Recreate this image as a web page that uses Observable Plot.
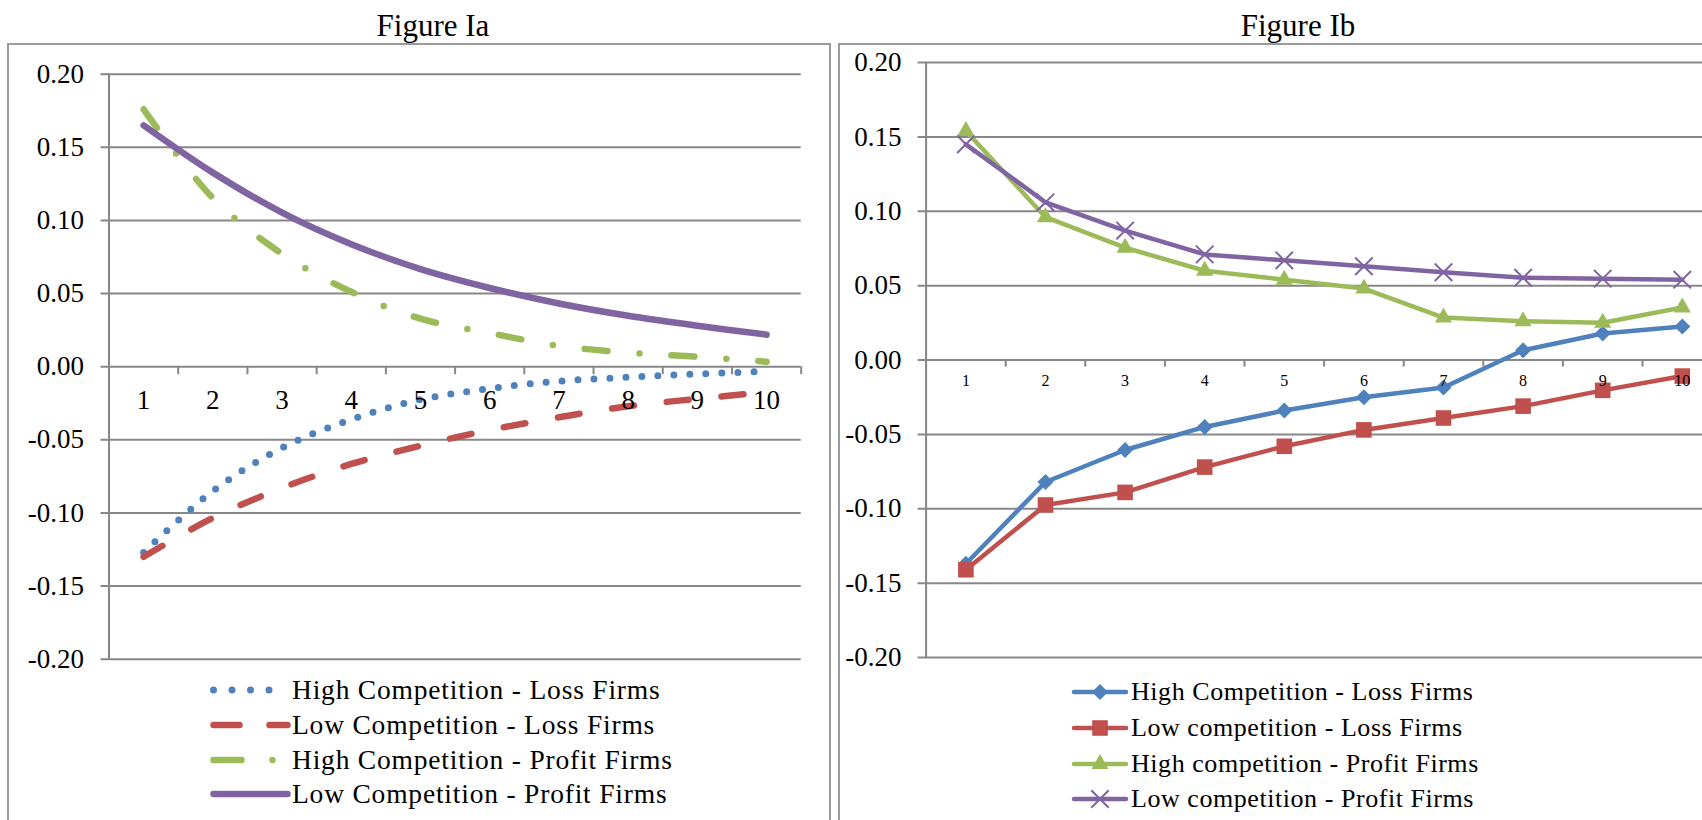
<!DOCTYPE html>
<html><head><meta charset="utf-8">
<script src="https://cdn.jsdelivr.net/npm/d3@7"></script>
<script src="https://cdn.jsdelivr.net/npm/@observablehq/plot@0.6"></script>
<style>
html,body{margin:0;padding:0;background:#fff;}
#page{position:relative;width:1702px;height:820px;overflow:hidden;font-family:"Liberation Serif",serif;color:#000;}
.box{position:absolute;border:2px solid #9a9a9a;box-sizing:border-box;}
.title{position:absolute;transform:translate(-50%,-50%);font-size:31px;white-space:nowrap;}
.leg{position:absolute;display:flex;align-items:center;font-size:27.5px;letter-spacing:0.8px;white-space:nowrap;height:36px;}
.leg.b{font-size:26px;letter-spacing:0.55px;}
.leg svg{display:block;}
.plot{position:absolute;top:0;}
</style></head><body><div id="page"></div>
<script>
// ---------- data ----------
const categories = [1, 2, 3, 4, 5, 6, 7, 8, 9, 10];
const yTicks = [-0.20, -0.15, -0.10, -0.05, 0.00, 0.05, 0.10, 0.15, 0.20];

const titleA = "Figure Ia";
const titleB = "Figure Ib";

// Figure Ia
const namesA = ["High Competition - Loss Firms", "Low Competition - Loss Firms", "High Competition - Profit Firms", "Low Competition - Profit Firms"];
const highLossA   = [-0.127, -0.085, -0.0555, -0.036, -0.0225, -0.015, -0.0099, -0.0072, -0.005, -0.0032];
const lowLossA    = [-0.130, -0.1034, -0.0829, -0.0665, -0.054, -0.0433, -0.0346, -0.027, -0.022, -0.0174];
const highProfitA = [0.176, 0.1154, 0.0772, 0.0512, 0.0328, 0.023, 0.0143, 0.0096, 0.0068, 0.0034];
const lowProfitA  = [0.165, 0.1327, 0.1054, 0.0838, 0.0667, 0.0538, 0.0432, 0.0348, 0.028, 0.0219];

// Figure Ib
const namesB = ["High Competition - Loss Firms", "Low competition - Loss Firms", "High competition - Profit Firms", "Low competition - Profit Firms"];
const highLossB   = [-0.137, -0.082, -0.0605, -0.045, -0.034, -0.025, -0.0185, 0.0065, 0.0178, 0.0225];
const lowLossB    = [-0.141, -0.0975, -0.089, -0.072, -0.058, -0.047, -0.039, -0.031, -0.0204, -0.0108];
const highProfitB = [0.154, 0.096, 0.0755, 0.060, 0.054, 0.048, 0.0285, 0.026, 0.025, 0.0353];
const lowProfitB  = [0.145, 0.106, 0.087, 0.071, 0.067, 0.063, 0.059, 0.0553, 0.0547, 0.054];

// ---------- styles ----------
const BLUE = "#4F81BD", RED = "#C0504D", GREEN = "#9BBB59", PURPLE = "#8064A2";
const GRID = "#878787";
const FONT = '"Liberation Serif", serif';
const xDomain = [categories[0] - 0.5, categories[categories.length - 1] + 0.5];
const boundaries = categories.map(c => c + 0.5);
const fmt = d => d.toFixed(2);

const page = document.getElementById("page");
function add(html) { const d = document.createElement("div"); d.innerHTML = html; const el = d.firstElementChild; page.appendChild(el); return el; }

// panel boxes
add(`<div class="box" style="left:7px;top:43px;width:824px;height:820px"></div>`);
add(`<div class="box" style="left:838px;top:43px;width:900px;height:820px"></div>`);

// titles
add(`<div class="title" style="left:433px;top:26px">${titleA}</div>`);
add(`<div class="title" style="left:1298px;top:26px">${titleB}</div>`);

// ---------- Figure Ia ----------
const stylesA = [
  {values: highLossA,   stroke: BLUE,   strokeWidth: 7,   dash: "0 16"},
  {values: lowLossA,    stroke: RED,    strokeWidth: 6.5, dash: "22 33"},
  {values: highProfitA, stroke: GREEN,  strokeWidth: 6.5, dash: "23 32 0 32"},
  {values: lowProfitA,  stroke: PURPLE, strokeWidth: 6.5, dash: null}
];

const plotA = Plot.plot({
  width: 830, height: 700,
  marginLeft: 108.5, marginRight: 29.3, marginTop: 73.7, marginBottom: 41.3,
  x: {domain: xDomain, axis: null},
  y: {domain: [yTicks[0], yTicks[yTicks.length - 1]]},
  style: {fontFamily: FONT, fontSize: "27px", background: "transparent", overflow: "visible", maxWidth: "none", color: "#000"},
  marks: [
    Plot.ruleY(yTicks, {stroke: GRID, strokeWidth: 2, insetLeft: -8}),
    Plot.ruleX([xDomain[0]], {y1: yTicks[0], y2: yTicks[yTicks.length - 1], stroke: GRID, strokeWidth: 2}),
    Plot.ruleX(boundaries, {x: d => d, y1: 0, y2: 0, insetBottom: -8, stroke: GRID, strokeWidth: 2}),
    Plot.axisY(yTicks, {tickSize: 0, tickPadding: 25, tickFormat: fmt, fontSize: 27, label: null}),
    ...stylesA.map(s => Plot.line(categories, {
      x: d => d, y: (d, i) => s.values[i], stroke: s.stroke, strokeWidth: s.strokeWidth,
      curve: "catmull-rom", strokeLinecap: "round", strokeLinejoin: "round",
      ...(s.dash ? {strokeDasharray: s.dash} : {})
    })),
    Plot.text(categories, {x: d => d, y: 0, dy: 34, text: d => String(d), fontSize: 27})
  ]
});
plotA.classList.add("plot");
plotA.style.left = "0px";
page.appendChild(plotA);

// legend A
const legYA = [690, 725, 760, 794];
stylesA.forEach((s, i) => {
  const dash = s.dash ? (i === 0 ? "0 18.5" : i === 1 ? "26 30" : "28 31 0 31") : null;
  add(`<div class="leg" style="left:208px;top:${legYA[i] - 18}px">
    <svg width="84" height="14"><line x1="5.5" x2="79.5" y1="7" y2="7" stroke="${s.stroke}" stroke-width="${i === 0 ? 7 : 6.5}" stroke-linecap="round" ${dash ? `stroke-dasharray="${dash}"` : ""}/></svg>
    <span>${namesA[i]}</span></div>`);
});

// ---------- Figure Ib ----------
const stylesB = [
  {values: highLossB,   stroke: BLUE,   symbol: "diamond2", r: 7.2, filled: true},
  {values: lowLossB,    stroke: RED,    symbol: "square",   r: 8.8, filled: true},
  {values: highProfitB, stroke: GREEN,  symbol: "triangle", r: 6.4, filled: true},
  {values: lowProfitB,  stroke: PURPLE, symbol: "times",    r: 8,   filled: false}
];

const plotB = Plot.plot({
  width: 900, height: 700,
  marginLeft: 95.6, marginRight: 8.4, marginTop: 62, marginBottom: 43,
  x: {domain: xDomain, axis: null},
  y: {domain: [yTicks[0], yTicks[yTicks.length - 1]]},
  style: {fontFamily: FONT, fontSize: "27px", background: "transparent", overflow: "visible", maxWidth: "none", color: "#000"},
  marks: [
    Plot.ruleY(yTicks, {stroke: GRID, strokeWidth: 2, insetLeft: -8}),
    Plot.ruleX([xDomain[0]], {y1: yTicks[0], y2: yTicks[yTicks.length - 1], stroke: GRID, strokeWidth: 2}),
    Plot.ruleX(boundaries, {x: d => d, y1: 0, y2: 0, insetBottom: -7, stroke: GRID, strokeWidth: 2}),
    Plot.axisY(yTicks, {tickSize: 0, tickPadding: 24.5, tickFormat: fmt, fontSize: 27, label: null}),
    ...stylesB.flatMap(s => [
      Plot.line(categories, {x: d => d, y: (d, i) => s.values[i], stroke: s.stroke, strokeWidth: 4.5, strokeLinejoin: "round", strokeLinecap: "round"}),
      Plot.dot(categories, {x: d => d, y: (d, i) => s.values[i], symbol: s.symbol, r: s.r,
        fill: s.filled ? s.stroke : "none", stroke: s.filled ? "none" : s.stroke, strokeWidth: s.filled ? 0 : 2})
    ]),
    Plot.text(categories, {x: d => d, y: 0, dy: 20.5, text: d => String(d), fontSize: 16})
  ]
});
plotB.classList.add("plot");
plotB.style.left = "830px";
page.appendChild(plotB);

// legend B
const legYB = [692, 728, 764, 799];
const symMap = {diamond2: d3.symbolDiamond2, square: d3.symbolSquare, triangle: d3.symbolTriangle, times: d3.symbolTimes};
stylesB.forEach((s, i) => {
  const path = d3.symbol(symMap[s.symbol], Math.PI * s.r * s.r)();
  add(`<div class="leg b" style="left:1069px;top:${legYB[i] - 18}px">
    <svg width="62" height="24"><line x1="5" x2="57" y1="12" y2="12" stroke="${s.stroke}" stroke-width="4.5" stroke-linecap="round"/>
    <path transform="translate(31,12)" d="${path}" fill="${s.filled ? s.stroke : "none"}" stroke="${s.filled ? "none" : s.stroke}" stroke-width="2"/></svg>
    <span>${namesB[i]}</span></div>`);
});
</script></body></html>
